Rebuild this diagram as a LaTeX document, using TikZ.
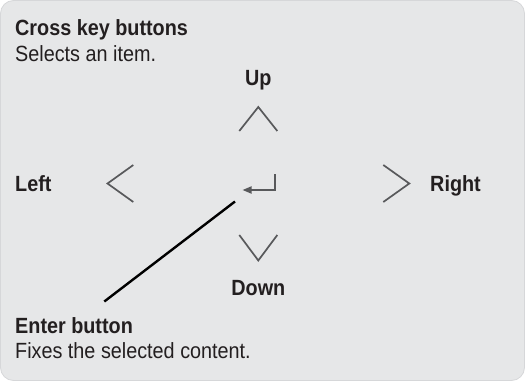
\documentclass[tikz,border=0pt]{standalone}
\usepackage{fontspec}
\setmainfont[FakeStretch=0.9]{Liberation Sans}
\usetikzlibrary{arrows.meta}
\definecolor{bgfill}{HTML}{E6E7E8}
\definecolor{bgedge}{HTML}{D6D7D9}
\definecolor{txt}{HTML}{231F20}
\definecolor{chev}{HTML}{58595B}
\begin{document}
\begin{tikzpicture}[x=1pt,y=-1pt,
  lbl/.style={inner sep=0pt,text=txt,font=\fontsize{22}{26}\selectfont},
  blbl/.style={lbl,font=\fontsize{22}{26}\selectfont\bfseries},
  chevron/.style={draw=chev,line width=1.7pt,line join=miter},
  leader/.style={draw=black,line width=2.4pt}]
\useasboundingbox (0,0) rectangle (526,382);
\path[fill=bgfill,draw=bgedge,line width=0.8pt,rounded corners=13pt] (0.5,0.5) rectangle (524.5,380.5);
% texts
\node[blbl,anchor=base west] (title) at (15,36) {Cross key buttons};
\node[lbl,anchor=base west] (sel) at (15,61.5) {Selects an item.};
\node[blbl,anchor=base] (up) at (258.3,86) {Up};
\node[blbl,anchor=base west] (left) at (15,191) {Left};
\node[blbl,anchor=base west] (right) at (430,191) {Right};
\node[blbl,anchor=base] (down) at (258.3,295.5) {Down};
\node[blbl,anchor=base west] (enter) at (15,333.5) {Enter button};
\node[lbl,anchor=base west] (fix) at (15,358) {Fixes the selected content.};
% chevrons
\draw[chevron] (239.3,131) -- (258.3,107) -- (277.3,131);
\draw[chevron] (239.3,235) -- (258.3,260.5) -- (277.3,235);
\draw[chevron] (133.3,165) -- (107.5,183.5) -- (133.3,202);
\draw[chevron] (383.3,165) -- (409.3,183.5) -- (383.3,202);
% enter symbol
\coordinate (entop) at (275,174);
\coordinate (entip) at (242.5,190);
\draw[draw=chev,line width=1.7pt,-{Triangle[length=9pt,width=7pt]}] (entop) |- (entip);
% leader
\coordinate (la) at (235,201.5);
\coordinate (lb) at (104.3,301.5);
\draw[leader] (la) -- (lb);
\end{tikzpicture}
\end{document}
